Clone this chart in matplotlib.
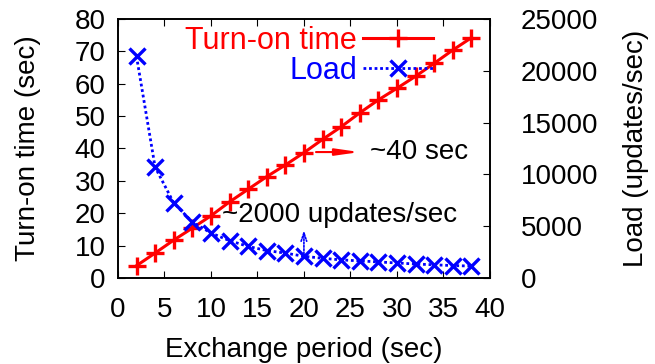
import matplotlib
matplotlib.use("Agg")
import matplotlib.pyplot as plt

plt.rcParams['font.family'] = ['Liberation Sans', 'DejaVu Sans']
plt.rcParams['font.size'] = 20

# exchange period (sec)
period = [2, 4, 6, 8, 10, 12, 14, 16, 18, 20, 22, 24, 26, 28, 30, 32, 34, 36, 38]
# turn-on time (sec), left axis
turn_on = [3.8, 7.7, 11.7, 15.4, 19.2, 23.5, 27.4, 31.3, 34.9, 38.7,
           42.8, 46.7, 51.0, 55.0, 58.6, 62.3, 66.3, 70.4, 74.2]
# load (updates/sec), right axis
load = [21400, 10700, 7250, 5400, 4350, 3600, 3050, 2650, 2400, 2100,
        1900, 1750, 1650, 1550, 1450, 1350, 1270, 1200, 1150]

fig = plt.figure(figsize=(6.55, 3.64), dpi=100)
ax = fig.add_axes([0.180, 0.2363, 0.568, 0.7115])
ax2 = ax.twinx()

l1, = ax.plot(period, turn_on, color='red', lw=2.2, marker='+', ms=13, mew=2.4,
              label='Turn-on time', zorder=3)
l2, = ax2.plot(period, load, color='blue', lw=2.0, ls=(0, (1, 1)), marker='x',
               ms=11, mew=2.4, label='Load', zorder=3)

ax.set_xlim(0, 40)
ax.set_ylim(0, 80)
ax2.set_ylim(0, 25000)
ax.set_xticks(range(0, 41, 5))
ax.set_yticks(range(0, 81, 10))
ax2.set_yticks(range(0, 25001, 5000))

ax.tick_params(axis='x', direction='in', top=True, length=5, pad=14)
ax.tick_params(axis='y', direction='in', right=False, length=5, pad=9)
ax2.tick_params(axis='y', direction='in', length=5, pad=22)

ax.set_xlabel('Exchange period (sec)', labelpad=10)
ax.set_ylabel('Turn-on time (sec)', labelpad=24)
ax2.set_ylabel('Load (updates/sec)', labelpad=18)

for a in (ax, ax2):
    for s in a.spines.values():
        s.set_linewidth(1.2)

# annotations
ax.annotate('', xy=(26.3, 38.9), xytext=(21.0, 38.9),
            arrowprops=dict(arrowstyle='-|>,head_length=0.7,head_width=0.1',
                            color='red', lw=1.5))
ax.text(27.1, 38.9, '~40 sec', ha='left', va='center')
ax.text(11.2, 19.4, '~2000 updates/sec', ha='left', va='center')
ax.annotate('', xy=(20, 15.6), xytext=(20, 6.6),
            arrowprops=dict(arrowstyle='->,head_length=0.3,head_width=0.1',
                            color='blue', lw=1.2, ls=(0, (1, 1))))

leg = ax.legend(handles=[l1, l2], loc='upper right', bbox_to_anchor=(0.905, 1.055),
                frameon=False, markerfirst=False, handlelength=2.3, fontsize=22,
                handletextpad=0.2, labelspacing=0.0, borderpad=0.2)
for txt, line in zip(leg.get_texts(), [l1, l2]):
    txt.set_color(line.get_color())

fig.savefig('out.png', dpi=100)
